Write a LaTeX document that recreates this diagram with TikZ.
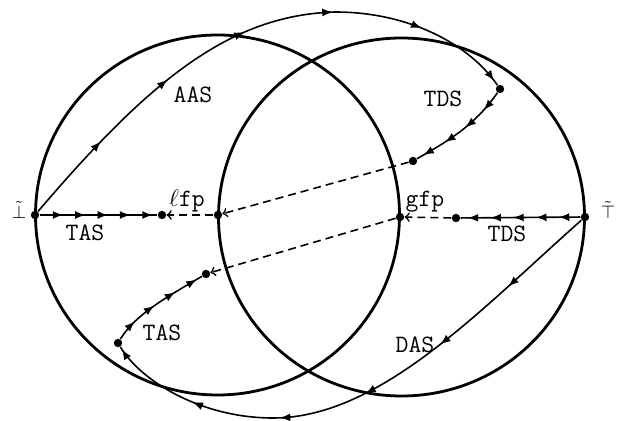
\documentclass[tikz,border=0pt]{standalone}
\usepackage{amsmath}
\usepackage{amssymb}
\usetikzlibrary{arrows,calc,positioning,decorations.markings}
\tikzset{dot/.style={circle,fill,inner sep=0pt,minimum size=4.2pt},
  ring/.style={line width=1.4pt},
  flow/.style={line width=0.8pt,postaction={decorate},
    decoration={markings,mark=between positions #1 with {\arrow{latex}}}},
  link/.style={line width=0.8pt,dash pattern=on 4pt off 2.5pt,->},
  lab/.style={font=\ttfamily\fontsize{12.5}{14}\selectfont,anchor=base,inner sep=0pt},
  end/.style={font=\fontsize{9}{10}\selectfont,inner sep=0pt}}

\begin{document}
\begin{tikzpicture}[>=to, x=0.5pt, y=-0.5pt]
\useasboundingbox (0,0) rectangle (620,421);
% the two lattices
\draw[ring] (217.5,215) ellipse [x radius=182, y radius=180];
\draw[ring] (401.5,217) ellipse [x radius=183, y radius=179];
% points
\node[dot] (Bot) at (35,215) {};
\node[dot] (Top) at (585,217) {};
\node[dot] (Lfp) at (218,215) {};
\node[dot] (Gfp) at (400,217) {};
\node[dot] (tasH) at (162,215) {};
\node[dot] (tdsH) at (456,218) {};
\node[dot] (tdsU) at (500,89) {};
\node[dot] (tdsE) at (413,161) {};
\node[dot] (tasL) at (118,343) {};
\node[dot] (tasE) at (206,274) {};
\node[end] (lBot) at (19,210) {$\tilde{\bot}$};
\node[end] (lTop) at (608,210) {$\tilde{\top}$};
% iterations
\path (Bot) edge[flow={0.2 and 0.97 step 0.19}] (tasH)
      (Top) edge[flow={0.18 and 0.95 step 0.19}] (tdsH);
\draw[flow={0.17 and 1 step 0.164}] (Bot) .. controls (150,80) and (230,15) .. (335,12)
     .. controls (410,12) and (470,45) .. (tdsU);
\draw[flow={0.21 and 0.95 step 0.24}] (tdsU) .. controls (475,125) and (450,140) .. (tdsE);
\draw[flow={0.18 and 1 step 0.163}] (Top) .. controls (480,310) and (380,418) .. (273,418)
     .. controls (200,418) and (140,380) .. (tasL);
\draw[flow={0.22 and 0.96 step 0.24}] (tasL) .. controls (135,315) and (165,298) .. (tasE);
% limits
\path (tdsE) edge[link] (Lfp)
      (Lfp) edge[link] (tasH)
      (tdsH) edge[link] (Gfp)
      (Gfp) edge[link] (tasE);
% labels
\node[lab] (nLfp) at (187,207) {$\ell$fp};
\node[lab] (nGfp) at (425,207) {gfp};
\node[lab] (nAAS) at (193,103) {AAS};
\node[lab] (nTDS1) at (443,107) {TDS};
\node[lab] (nTAS1) at (85,241) {TAS};
\node[lab] (nTDS2) at (507,242) {TDS};
\node[lab] (nTAS2) at (162,341) {TAS};
\node[lab] (nDAS) at (415,353) {DAS};
\end{tikzpicture}
\end{document}
